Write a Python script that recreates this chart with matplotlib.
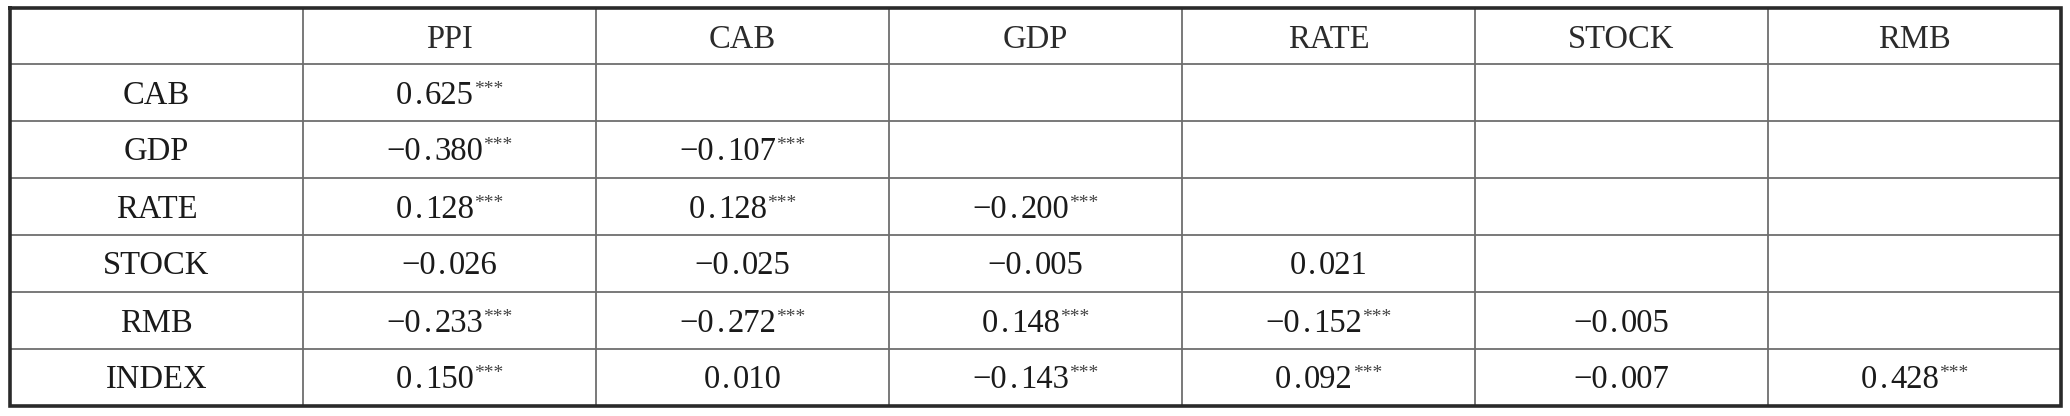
import matplotlib.pyplot as plt

# correlation table
col_names = ['PPI', 'CAB', 'GDP', 'RATE', 'STOCK', 'RMB']
row_names = ['CAB', 'GDP', 'RATE', 'STOCK', 'RMB', 'INDEX']
values = [
    [0.625],
    [-0.380, -0.107],
    [0.128, 0.128, -0.200],
    [-0.026, -0.025, -0.005, 0.021],
    [-0.233, -0.272, 0.148, -0.152, -0.005],
    [0.150, 0.010, -0.143, 0.092, -0.007, 0.428],
]
stars = [
    ['***'],
    ['***', '***'],
    ['***', '***', '***'],
    ['', '', '', ''],
    ['***', '***', '***', '***', ''],
    ['***', '', '***', '***', '', '***'],
]

W, H = 2070, 416
fig = plt.figure(figsize=(W / 100, H / 100), dpi=100)
ax = fig.add_axes([0, 0, 1, 1])
ax.set_xlim(0, W)
ax.set_ylim(H, 0)
ax.axis('off')

x0, y0 = 10, 8
cw = 293
head_h, row_h = 56, 57
ncol = len(col_names) + 1
x_edges = [x0 + i * cw for i in range(ncol + 1)]
y_edges = [y0] + [y0 + head_h + i * row_h for i in range(len(row_names) + 1)]

inner = dict(color='#6e6e6e', lw=1.3)
for x in x_edges[1:-1]:
    ax.plot([x, x], [y_edges[0], y_edges[-1]], **inner)
for y in y_edges[1:-1]:
    ax.plot([x_edges[0], x_edges[-1]], [y, y], **inner)
ax.plot([x_edges[0], x_edges[-1], x_edges[-1], x_edges[0], x_edges[0]],
        [y_edges[0], y_edges[0], y_edges[-1], y_edges[-1], y_edges[0]],
        color='#2a2a2a', lw=2.6, solid_joinstyle='miter')

fam = 'Liberation Serif'
fs = 23.5
cap = 11
txt = dict(va='baseline', family=fam, fontsize=fs, color='#1a1a1a')

for j, name in enumerate(col_names):
    cx = (x_edges[j + 1] + x_edges[j + 2]) / 2
    cy = (y_edges[0] + y_edges[1]) / 2 + 1
    ax.text(cx, cy + cap, name, ha='center', va='baseline', family=fam,
            fontsize=fs, color='#2b2b2b')

renderer = fig.canvas.get_renderer()


def width(t):
    return t.get_window_extent(renderer).width


for i, name in enumerate(row_names):
    cy = (y_edges[i + 1] + y_edges[i + 2]) / 2
    base = cy + cap
    ax.text((x_edges[0] + x_edges[1]) / 2, base, name, ha='center', **txt)
    for j, v in enumerate(values[i]):
        cx = (x_edges[j + 1] + x_edges[j + 2]) / 2
        s = f'{v:.3f}'.replace('-', '\u2212')
        a, b = s.split('.')
        ta = ax.text(cx, base, a, ha='left', **txt)
        td = ax.text(cx, base, '.', ha='center', **txt)
        tb = ax.text(cx, base, b, ha='left', **txt)
        wa, wb = width(ta), width(tb)
        slot = 13
        w1 = wa + slot + wb
        w2 = 0
        st = None
        if stars[i][j]:
            st = ax.text(cx, base - 10, stars[i][j], ha='left', va='baseline',
                         family=fam, fontsize=14, color='#444444')
            w2 = width(st)
        left = cx - (w1 + w2) / 2
        ta.set_x(left)
        td.set_x(left + wa + slot / 2)
        tb.set_x(left + wa + slot)
        if st is not None:
            st.set_x(left + w1)

fig.savefig('out.png', dpi=100, facecolor='white')
